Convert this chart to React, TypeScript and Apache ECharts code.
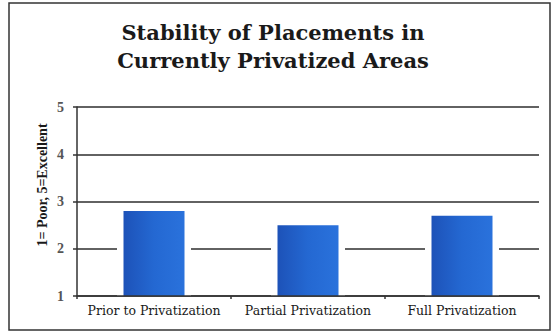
import React, { useEffect, useRef } from "react";
import * as echarts from "echarts";

const categories = ["Prior to Privatization", "Partial Privatization", "Full Privatization"];
const values = [2.8, 2.5, 2.7];
const yTicks = [1, 2, 3, 4, 5];
const titleLines = ["Stability of Placements in", "Currently Privatized Areas"];
const yAxisName = "1= Poor, 5=Excellent";

export default function App() {
  const ref = useRef<HTMLDivElement>(null);
  useEffect(() => {
    if (!ref.current) return;
    const chart = echarts.init(ref.current, null, { renderer: "svg" });
    const serif = "Liberation Serif";
    const wide = "DejaVu Serif";
    chart.setOption({
      animation: false,
      backgroundColor: "#ffffff",
      title: {
        text: titleLines.join("\n"),
        left: 268,
        top: 13,
        textAlign: "center",
        textStyle: {
          fontFamily: wide,
          fontWeight: "bold",
          fontSize: 21,
          lineHeight: 28,
          color: "#1a1a1a",
        },
      },
      grid: { left: 77, right: 15, top: 107, bottom: 38 },
      xAxis: [
        {
          type: "category",
          data: categories,
          z: 10,
          axisLine: { show: true, lineStyle: { color: "#333", width: 1.5 } },
          axisTick: { show: true, length: 3, lineStyle: { color: "#333", width: 1.5 } },
          axisLabel: { interval: 0, fontFamily: wide, fontSize: 12.5, color: "#1a1a1a", margin: 8 },
        },
        {
          type: "category",
          data: categories,
          show: false,
        },
      ],
      yAxis: {
        type: "value",
        min: yTicks[0],
        max: yTicks[yTicks.length - 1],
        interval: 1,
        axisLine: { show: true, lineStyle: { color: "#333", width: 1.5 } },
        axisTick: { show: true, length: 4, lineStyle: { color: "#333", width: 1.5 } },
        splitLine: { show: true, lineStyle: { color: "#2e2e2e", width: 1.6 } },
        axisLabel: { fontFamily: serif, fontSize: 14, fontWeight: "bold", color: "#555", margin: 13 },
      },
      series: [
        {
          type: "bar",
          xAxisIndex: 1,
          data: values,
          barWidth: 74,
          z: 1,
          silent: true,
          itemStyle: { color: "#ffffff" },
        },
        {
          type: "bar",
          xAxisIndex: 0,
          data: values,
          barWidth: 61,
          z: 3,
          itemStyle: {
            color: new echarts.graphic.LinearGradient(0, 0, 1, 0, [
              { offset: 0, color: "#1d52b8" },
              { offset: 0.5, color: "#2468d2" },
              { offset: 1, color: "#2a72dc" },
            ]),
          },
        },
      ],
      graphic: [
        {
          type: "rect",
          shape: { x: 9, y: 3, width: 541, height: 327 },
          style: { fill: "none", stroke: "#333", lineWidth: 1.5 },
          silent: true,
        },
        {
          type: "text",
          x: 42,
          y: 185,
          rotation: Math.PI / 2,
          style: {
            text: yAxisName,
            fontFamily: serif,
            fontWeight: "bold",
            fontSize: 14,
            fill: "#1a1a1a",
            textAlign: "center",
            textVerticalAlign: "middle",
          },
        },
      ],
    });
    return () => chart.dispose();
  }, []);
  return (
    <div
      ref={ref}
      style={{ position: "fixed", left: 0, top: 0, width: 554, height: 334 }}
    />
  );
}
